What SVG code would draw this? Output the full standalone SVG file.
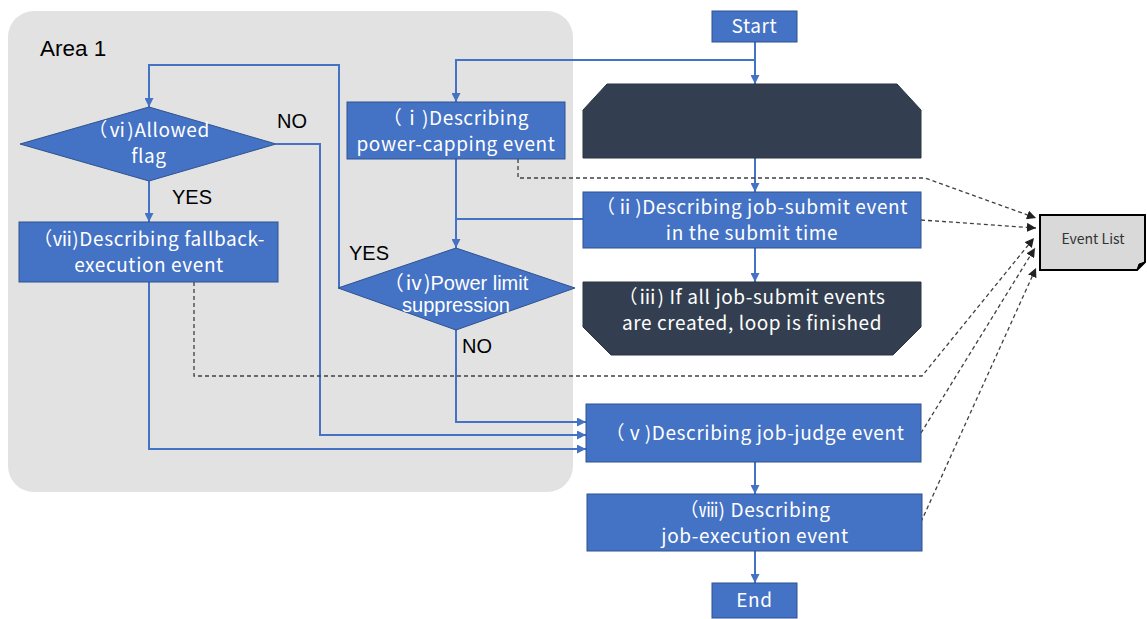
<svg xmlns="http://www.w3.org/2000/svg" width="1147" height="619" viewBox="0 0 1147 619">
<style>
.box{fill:#4472c4;stroke:#2f528f;stroke-width:1}
.dark{fill:#333f50;stroke:#2a3443;stroke-width:1}
.t{font-family:"Noto Sans CJK JP","Noto Sans",sans-serif;font-size:19px;fill:#fff;text-anchor:middle;letter-spacing:0.6px}
.ta{font-family:"Liberation Sans",Arial,sans-serif;font-size:20px;fill:#fff;text-anchor:middle}
.lbl{font-family:"Liberation Sans",Arial,sans-serif;font-size:20px;fill:#000}
.flow{fill:none;stroke:#4472c4;stroke-width:2;marker-end:url(#ab)}
.plain{fill:none;stroke:#4472c4;stroke-width:2}
.dash{fill:none;stroke:#404040;stroke-width:1.3;stroke-dasharray:4 3;marker-end:url(#ad)}
</style>
<defs>
<marker id="ab" viewBox="0 0 10 10" refX="10" refY="5" markerWidth="4.5" markerHeight="4.5" orient="auto" markerUnits="strokeWidth">
<path d="M0,0 L10,5 L0,10 Z" fill="#4472c4"/>
</marker>
<marker id="ad" viewBox="0 0 10 10" refX="10" refY="5" markerWidth="7" markerHeight="7" orient="auto" markerUnits="strokeWidth">
<path d="M0,0 L10,5 L0,10 Z" fill="#222"/>
</marker>
</defs>
<rect width="1147" height="619" fill="#fff"/>
<g id="area1">
<rect x="8" y="11" width="565" height="481" rx="26" fill="#e2e2e2"/>
<text x="40" y="56" font-family="'Liberation Sans',Arial,sans-serif" font-size="22.5" fill="#000">Area 1</text>
</g>
<g id="connectors">
<path class="flow" d="M755,42 V84"/>
<path class="flow" d="M755,60 H456 V102"/>
<path class="flow" d="M755,158 V192"/>
<path class="flow" d="M755,248 V282"/>
<path class="plain" d="M583,219 H456"/>
<path class="flow" d="M456,159 V248"/>
<path class="flow" d="M339,288 V65 H149 V107"/>
<path class="flow" d="M276,144 H320 V435 H586"/>
<path class="flow" d="M149,181 V222"/>
<path class="flow" d="M149,282 V449 H586"/>
<path class="flow" d="M456,328 V422 H586"/>
<path class="flow" d="M755,462 V494"/>
<path class="flow" d="M755,551 V583"/>
<path class="dash" d="M518,159 V178 H925 L1036,218"/>
<path class="dash" d="M921,220 L1036,228"/>
<path class="dash" d="M194,282 V376 H922 L1034,238"/>
<path class="dash" d="M921,433 L1035,248"/>
<path class="dash" d="M921,522 L1036,268"/>
</g>
<g id="start">
<rect class="box" x="712" y="11" width="85" height="31"/>
<text class="t" x="754.5" y="33">Start</text>
</g>
<g id="loopStart">
<path class="dark" d="M607,84 H897 L921,110 V158 H583 V110 Z"/>
</g>
<g id="n1">
<rect class="box" x="347" y="102" width="218" height="57"/>
<text class="t"><tspan x="456" y="124.5">（ⅰ)Describing</tspan><tspan x="456" y="150.5">power-capping event</tspan></text>
</g>
<g id="n2">
<rect class="box" x="583" y="192" width="338" height="56"/>
<text class="t"><tspan x="752" y="214">（ⅱ)Describing job-submit event</tspan><tspan x="752" y="240">in the submit time</tspan></text>
</g>
<g id="loopEnd">
<path class="dark" d="M583,282 H921 V327 L893,355 H611 L583,327 Z"/>
<text class="t"><tspan x="752" y="304">（ⅲ) If all job-submit events</tspan><tspan x="752" y="330">are created, loop is finished</tspan></text>
</g>
<g id="n4">
<path class="box" d="M456,248 L575,288 L456,330 L338,288 Z"/>
<text class="ta"><tspan x="456" y="290"><tspan font-family="'Noto Sans CJK JP',sans-serif">（ⅳ)</tspan>Power limit</tspan><tspan x="456" y="312">suppression</tspan></text>
</g>
<g id="n5">
<rect class="box" x="586" y="404" width="335" height="58"/>
<text class="t" x="755" y="440">（ⅴ)Describing job-judge event</text>
</g>
<g id="n6">
<path class="box" d="M149,107 L276,144 L149,181 L20,144 Z"/>
<text class="t"><tspan x="149" y="137">（ⅵ)Allowed</tspan><tspan x="149" y="163">flag</tspan></text>
</g>
<g id="n7">
<rect class="box" x="19" y="222" width="259" height="60"/>
<text class="t"><tspan x="149" y="246">（ⅶ)Describing fallback-</tspan><tspan x="149" y="272">execution event</tspan></text>
</g>
<g id="n8">
<rect class="box" x="587" y="494" width="335" height="57"/>
<text class="t"><tspan x="755" y="516.5">（ⅷ) Describing</tspan><tspan x="755" y="542.5">job-execution event</tspan></text>
</g>
<g id="end">
<rect class="box" x="712" y="583" width="85" height="35"/>
<text class="t" x="754.5" y="607">End</text>
</g>
<g id="eventList">
<path d="M1040,215 H1145 V262 L1137,270 H1040 Z" fill="#d9d9d9" stroke="#000" stroke-width="2"/>
<path d="M1145,262 L1137,270 L1139,264 Z" fill="#000" stroke="#000" stroke-width="1"/>
<text x="1093" y="244" font-family="'Noto Sans CJK JP','Noto Sans',sans-serif" font-size="14" fill="#333" text-anchor="middle">Event List</text>
</g>
<g id="labels">
<text class="lbl" x="277" y="128">NO</text>
<text class="lbl" x="172" y="204">YES</text>
<text class="lbl" x="349" y="260">YES</text>
<text class="lbl" x="462" y="353">NO</text>
</g>
</svg>
